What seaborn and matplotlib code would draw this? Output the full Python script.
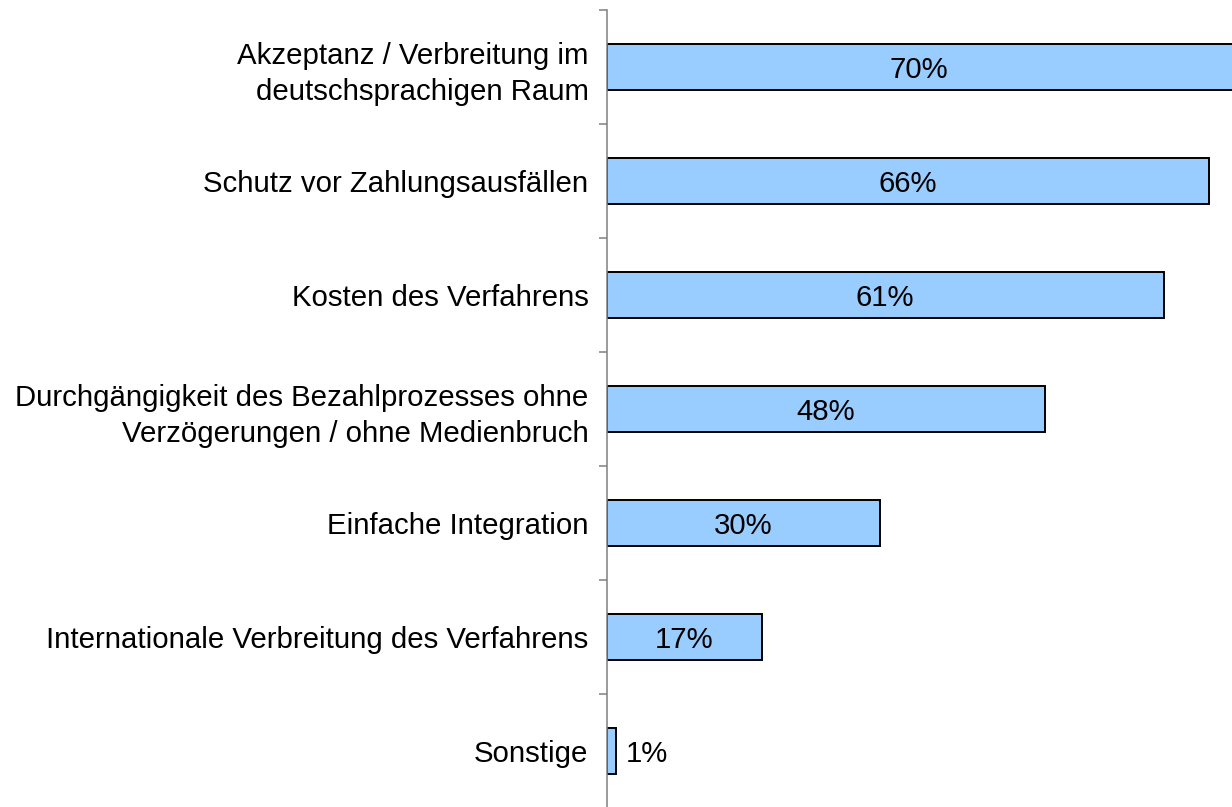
"""Horizontal bar chart: Wichtigkeit von Kriterien bei Bezahlverfahren."""
import numpy as np
import pandas as pd
import matplotlib
matplotlib.use("Agg")
import matplotlib.pyplot as plt
import seaborn as sns

categories = [
    "Akzeptanz / Verbreitung im\ndeutschsprachigen Raum",
    "Schutz vor Zahlungsausfällen",
    "Kosten des Verfahrens",
    "Durchgängigkeit des Bezahlprozesses ohne\nVerzögerungen / ohne Medienbruch",
    "Einfache Integration",
    "Internationale Verbreitung des Verfahrens",
    "Sonstige",
]
values = [70, 66, 61, 48, 30, 17, 1]

BAR_COLOR = "#99CCFF"
SPINE_COLOR = "#808080"
X_MAX = 68.5

sns.set_style("white")
plt.rcParams["font.family"] = ["Liberation Sans", "DejaVu Sans"]

data = pd.DataFrame({"kriterium": categories, "anteil": values})

fig = plt.figure(figsize=(12.32, 8.07), dpi=100)
ax = fig.add_axes([606.5 / 1232, -1 / 807, 1 - 606.5 / 1232, 798 / 807])

sns.barplot(data=data, y="kriterium", x="anteil", orient="h", ax=ax,
            color=BAR_COLOR, saturation=1, width=0.4,
            edgecolor="black", linewidth=1.4)

ax.set_xlim(0, X_MAX)
ax.set_ylim(len(categories) - 0.5, -0.5)

# value labels: inside (centered on visible part) or outside for tiny bars
for i, v in enumerate(values):
    if v >= 5:
        ax.text(min(v, X_MAX) / 2, i, f"{v}%", ha="center",
                va="center_baseline", fontsize=21.2, color="black")
    else:
        ax.text(v + 1.1, i, f"{v}%", ha="left",
                va="center_baseline", fontsize=21.2, color="black")

# category labels at bar centres, tick marks at slot boundaries
ax.set_yticks(np.arange(len(categories)))
ax.set_yticklabels(categories, fontsize=21.2, color="black", linespacing=1.35)
for lbl in ax.get_yticklabels():
    if "\n" not in lbl.get_text():
        lbl.set_va("center_baseline")
ax.tick_params(axis="y", which="major", length=0, pad=13)
ax.set_yticks(np.arange(len(categories) + 1) - 0.5, minor=True)
ax.tick_params(axis="y", which="minor", left=True, length=6,
               width=1.1, color=SPINE_COLOR)

ax.set_xlabel("")
ax.set_ylabel("")
ax.xaxis.set_visible(False)
for side in ["top", "right", "bottom"]:
    ax.spines[side].set_visible(False)
ax.spines["left"].set_color(SPINE_COLOR)
ax.spines["left"].set_linewidth(1.1)

fig.savefig("out.png", dpi=100)
